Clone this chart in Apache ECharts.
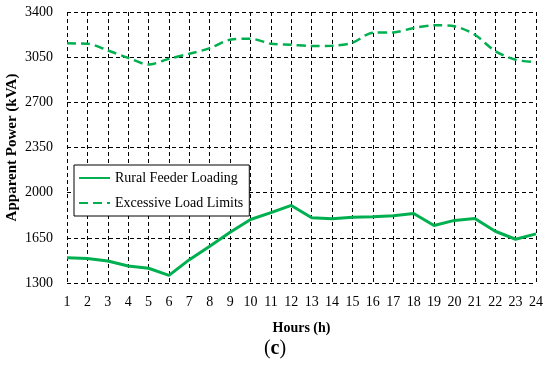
<!DOCTYPE html>
<html><head><meta charset="utf-8">
<script src="https://cdn.jsdelivr.net/npm/echarts@6/dist/echarts.min.js"></script>
<style>html,body{margin:0;padding:0;background:#fff}#c{width:550px;height:368px}</style>
</head><body><div id="c"></div>
<script>
const hours = ['1','2','3','4','5','6','7','8','9','10','11','12','13','14','15','16','17','18','19','20','21','22','23','24'];
const yTicks = [1300,1650,2000,2350,2700,3050,3400];
const ruralFeederLoading = [1495,1489,1471,1432,1414,1359,1481,1585,1694,1792,1845,1901,1806,1798,1810,1813,1821,1839,1746,1785,1800,1701,1639,1681];
const excessiveLoadLimits = [3157,3154,3102,3045,2993,3038,3076,3120,3185,3193,3154,3146,3136,3138,3162,3240,3242,3276,3297,3289,3224,3097,3030,3011];
const green = '#00b050';
const serif = 'Liberation Serif';
const chart = echarts.init(document.getElementById('c'));
const dashGrid = {show:true,lineStyle:{color:'#000',width:1,type:[4,3]}};
chart.setOption({
  animation:false,
  grid:{left:67,right:14,top:12,bottom:85,containLabel:false,outerBoundsMode:'none'},
  legend:{
    orient:'vertical',left:74,top:165,
    backgroundColor:'#fff',borderColor:'#000',borderWidth:1,
    padding:[6,6,6,4],itemGap:11,itemWidth:31,itemHeight:12,
    itemStyle:{opacity:0},
    textStyle:{fontFamily:serif,fontSize:14,color:'#000'},
    data:['Rural Feeder Loading','Excessive Load Limits']
  },
  xAxis:{
    type:'category',data:hours,boundaryGap:false,
    name:'Hours (h)',nameLocation:'middle',nameGap:38,nameMoveOverlap:false,
    nameTextStyle:{fontFamily:serif,fontSize:14,fontWeight:'bold',color:'#000'},
    axisLine:{show:false},axisTick:{show:false},
    axisLabel:{fontFamily:serif,fontSize:14,color:'#000',margin:12},
    splitLine:dashGrid
  },
  yAxis:{
    type:'value',min:yTicks[0],max:yTicks[yTicks.length-1],interval:yTicks[1]-yTicks[0],
    name:'Apparent Power (kVA)',nameLocation:'middle',nameGap:47,nameMoveOverlap:false,
    nameTextStyle:{fontFamily:serif,fontSize:15,fontWeight:'bold',color:'#000'},
    axisLine:{show:false},axisTick:{show:false},
    axisLabel:{fontFamily:serif,fontSize:14,color:'#000',margin:14,formatter:v=>String(v)},
    splitLine:dashGrid
  },
  graphic:[{type:'text',left:'center',top:339,style:{
    text:'({b|c})',rich:{b:{fontWeight:'bold',fontFamily:serif,fontSize:20,fill:'#000'}},
    fontFamily:serif,fontSize:20,fill:'#000'}}],
  series:[
    {name:'Rural Feeder Loading',type:'line',data:ruralFeederLoading,symbol:'none',
      lineStyle:{color:green,width:3},itemStyle:{color:green}},
    {name:'Excessive Load Limits',type:'line',data:excessiveLoadLimits,symbol:'none',smooth:0.3,
      lineStyle:{color:green,width:2.5,type:[9,5]},itemStyle:{color:green}}
  ]
});
</script></body></html>
